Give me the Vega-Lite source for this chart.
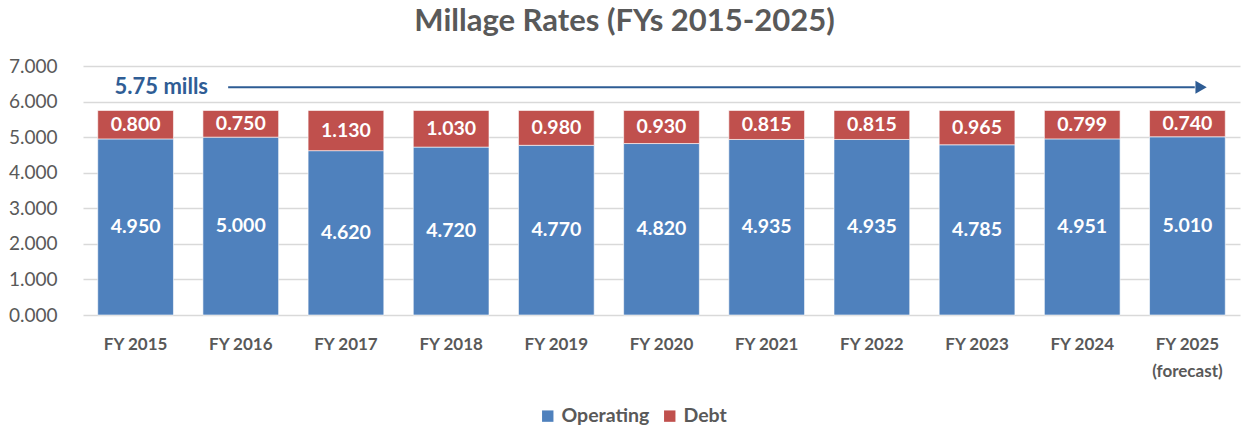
{
  "$schema": "https://vega.github.io/schema/vega-lite/v6.json",
  "width": 1157,
  "height": 249,
  "autosize": {"type": "none"},
  "padding": {"left": 83, "top": 66, "right": 9, "bottom": 113},
  "background": "white",
  "config": {"font": "Lato", "view": {"stroke": null}},
  "title": {"text": "Millage Rates (FYs 2015-2025)", "fontSize": 31, "fontWeight": "bold", "color": "#595959", "dx": -37, "offset": 19, "anchor": "middle"},
  "data": {"values": [
    {"year": "FY 2015", "type": "Operating", "value": 4.950},
    {"year": "FY 2015", "type": "Debt", "value": 0.800},
    {"year": "FY 2016", "type": "Operating", "value": 5.000},
    {"year": "FY 2016", "type": "Debt", "value": 0.750},
    {"year": "FY 2017", "type": "Operating", "value": 4.620},
    {"year": "FY 2017", "type": "Debt", "value": 1.130},
    {"year": "FY 2018", "type": "Operating", "value": 4.720},
    {"year": "FY 2018", "type": "Debt", "value": 1.030},
    {"year": "FY 2019", "type": "Operating", "value": 4.770},
    {"year": "FY 2019", "type": "Debt", "value": 0.980},
    {"year": "FY 2020", "type": "Operating", "value": 4.820},
    {"year": "FY 2020", "type": "Debt", "value": 0.930},
    {"year": "FY 2021", "type": "Operating", "value": 4.935},
    {"year": "FY 2021", "type": "Debt", "value": 0.815},
    {"year": "FY 2022", "type": "Operating", "value": 4.935},
    {"year": "FY 2022", "type": "Debt", "value": 0.815},
    {"year": "FY 2023", "type": "Operating", "value": 4.785},
    {"year": "FY 2023", "type": "Debt", "value": 0.965},
    {"year": "FY 2024", "type": "Operating", "value": 4.951},
    {"year": "FY 2024", "type": "Debt", "value": 0.799},
    {"year": "FY 2025", "type": "Operating", "value": 5.010},
    {"year": "FY 2025", "type": "Debt", "value": 0.740}
  ]},
  "layer": [
    {
      "mark": {"type": "bar", "stroke": "#FFFFFF", "strokeOpacity": 0.6, "strokeWidth": 1},
      "encoding": {
        "x": {"field": "year", "type": "nominal", "sort": null,
          "scale": {"paddingInner": 0.28, "paddingOuter": 0.14},
          "axis": {"title": null, "labelAngle": 0, "labelFontSize": 17, "labelFontWeight": "bold", "labelColor": "#595959", "ticks": false, "domain": false, "labelPadding": 21, "labelLineHeight": 27,
            "labelExpr": "datum.label == 'FY 2025' ? ['FY 2025', '(forecast)'] : datum.label"}},
        "y": {"field": "value", "type": "quantitative", "stack": "zero",
          "scale": {"domain": [0, 7], "nice": false},
          "axis": {"title": null, "values": [0, 1, 2, 3, 4, 5, 6, 7], "format": ".3f", "labelFontSize": 19, "labelColor": "#595959", "domain": false, "ticks": false, "gridColor": "#D9D9D9", "gridWidth": 1.5, "labelPadding": 26}},
        "color": {"field": "type", "type": "nominal",
          "scale": {"domain": ["Operating", "Debt"], "range": ["#4F81BD", "#C0504D"]},
          "legend": {"title": null, "orient": "none", "legendX": 455, "legendY": 340, "direction": "horizontal", "symbolType": "square", "symbolSize": 130, "symbolStrokeWidth": 0, "labelFontSize": 19.5, "labelFontWeight": "bold", "labelColor": "#595959", "columnPadding": 10, "labelOffset": 4}},
        "order": {"field": "type", "sort": "descending"}
      }
    },
    {
      "transform": [
        {"stack": "value", "groupby": ["year"], "as": ["v0", "v1"], "sort": [{"field": "type", "order": "descending"}]},
        {"calculate": "(datum.v0 + datum.v1) / 2", "as": "mid"}
      ],
      "mark": {"type": "text", "color": "white", "fontWeight": "bold", "fontSize": 19.5, "baseline": "middle"},
      "encoding": {
        "x": {"field": "year", "type": "nominal", "sort": null, "scale": {"paddingInner": 0.28, "paddingOuter": 0.14}, "axis": null},
        "y": {"field": "mid", "type": "quantitative", "scale": {"domain": [0, 7], "nice": false},
          "axis": {"title": null, "values": [0, 1, 2, 3, 4, 5, 6, 7], "format": ".3f", "labelFontSize": 19, "labelColor": "#595959", "domain": false, "ticks": false, "gridColor": "#D9D9D9", "gridWidth": 1.5, "labelPadding": 26}},
        "text": {"field": "value", "type": "quantitative", "format": ".3f"}
      }
    },
    {
      "data": {"values": [{"x": 1.38, "x2": 10.57, "y": 6.4}]},
      "mark": {"type": "rule", "color": "#2E5C94", "strokeWidth": 2},
      "encoding": {
        "x": {"field": "x", "type": "quantitative", "scale": {"domain": [0, 11], "nice": false, "zero": false}, "axis": null},
        "x2": {"field": "x2"},
        "y": {"field": "y", "type": "quantitative", "scale": {"domain": [0, 7], "nice": false},
          "axis": {"title": null, "values": [0, 1, 2, 3, 4, 5, 6, 7], "format": ".3f", "labelFontSize": 19, "labelColor": "#595959", "domain": false, "ticks": false, "gridColor": "#D9D9D9", "gridWidth": 1.5, "labelPadding": 26}}
      }
    },
    {
      "data": {"values": [{"x": 10.63, "y": 6.4}]},
      "mark": {"type": "point", "shape": "triangle-right", "filled": true, "color": "#2E5C94", "opacity": 1, "size": 170},
      "encoding": {
        "x": {"field": "x", "type": "quantitative", "scale": {"domain": [0, 11], "nice": false, "zero": false}, "axis": null},
        "y": {"field": "y", "type": "quantitative", "scale": {"domain": [0, 7], "nice": false},
          "axis": {"title": null, "values": [0, 1, 2, 3, 4, 5, 6, 7], "format": ".3f", "labelFontSize": 19, "labelColor": "#595959", "domain": false, "ticks": false, "gridColor": "#D9D9D9", "gridWidth": 1.5, "labelPadding": 26}}
      }
    },
    {
      "data": {"values": [{"x": 0.30, "y": 6.4, "label": "5.75 mills"}]},
      "mark": {"type": "text", "align": "left", "baseline": "middle", "fontSize": 22, "fontWeight": "bold", "color": "#2F5D95"},
      "encoding": {
        "x": {"field": "x", "type": "quantitative", "scale": {"domain": [0, 11], "nice": false, "zero": false}, "axis": null},
        "y": {"field": "y", "type": "quantitative", "scale": {"domain": [0, 7], "nice": false},
          "axis": {"title": null, "values": [0, 1, 2, 3, 4, 5, 6, 7], "format": ".3f", "labelFontSize": 19, "labelColor": "#595959", "domain": false, "ticks": false, "gridColor": "#D9D9D9", "gridWidth": 1.5, "labelPadding": 26}},
        "text": {"field": "label"}
      }
    }
  ],
  "resolve": {"scale": {"x": "independent"}}
}
